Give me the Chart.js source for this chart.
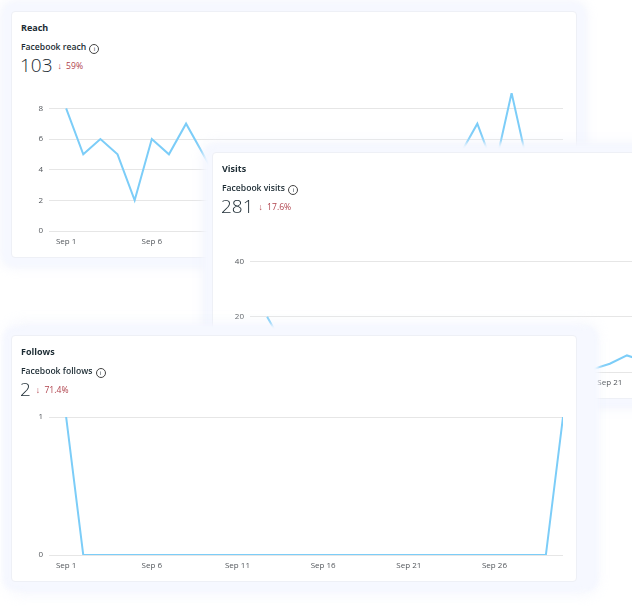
<!DOCTYPE html>
<html lang="en">
<head>
<meta charset="UTF-8">
<title>Facebook insights</title>
<script src="https://cdn.jsdelivr.net/npm/chart.js"></script>
<style>
  html, body { margin: 0; padding: 0; background: #fff; width: 632px; height: 606px; overflow: hidden; }
  body { position: relative; font-family: "Open Sans", "Noto Sans", sans-serif; color: #1c2b33; }
  .card {
    position: absolute; width: 566px; height: 247px; background: #fff;
    border-radius: 4px; border: 1px solid #eef0f6; box-sizing: border-box;
    box-shadow: 0 0 5px 8px rgba(246,248,255,1), 0 0 12px 10px rgba(236,240,252,0.6);
  }
  #followsCard {
    box-shadow: 0 0 5px 8px rgba(246,248,255,1), 12px 0 4px 9px rgba(246,248,255,1), 8px 0 14px 12px rgba(236,240,252,0.6);
  }
  .title { position: absolute; left: 9px; top: 9px; font-size: 9px; font-weight: 700; }
  .metric { position: absolute; left: 9px; top: 29px; font-size: 8.6px; font-weight: 600; white-space: nowrap; }
  .info { display: inline-block; width: 8px; height: 8px; border: 0.8px solid #444; border-radius: 50%;
          font-size: 6px; line-height: 8px; text-align: center; font-weight: 400; vertical-align: -1px; margin-left: 1px; }
  .value { position: absolute; left: 8px; top: 40px; font-size: 19px; font-weight: 300; white-space: nowrap; }
  .delta { font-size: 8.6px; color: #b0424c; font-weight: 400; margin-left: 5px; vertical-align: 3px; }
  .delta b { font-weight: 700; margin-right: 2px; }
  .chart { position: absolute; left: 0; top: 70px; width: 566px; height: 170px; }
</style>
</head>
<body>

<div class="card" id="reachCard" style="left:11px; top:11px; z-index:1;">
  <div class="title">Reach</div>
  <div class="metric">Facebook reach <span class="info">i</span></div>
  <div class="value">103<span class="delta"><b>↓</b> 59%</span></div>
  <div class="chart"><canvas id="reachChart"></canvas></div>
</div>

<div class="card" id="visitsCard" style="left:212px; top:152px; z-index:2;">
  <div class="title">Visits</div>
  <div class="metric">Facebook visits <span class="info">i</span></div>
  <div class="value">281<span class="delta"><b>↓</b> 17.6%</span></div>
  <div class="chart"><canvas id="visitsChart"></canvas></div>
</div>

<div class="card" id="followsCard" style="left:11px; top:335px; z-index:3;">
  <div class="title">Follows</div>
  <div class="metric">Facebook follows <span class="info">i</span></div>
  <div class="value">2<span class="delta"><b>↓</b> 71.4%</span></div>
  <div class="chart"><canvas id="followsChart"></canvas></div>
</div>

<script>
// days of September
const days = [1, 2, 3, 4, 5, 6, 7, 8, 9, 10, 11, 12, 13, 14, 15, 16, 17, 18, 19, 20, 21, 22, 23, 24, 25, 26, 27, 28, 29, 30];
const tickDays = [1, 6, 11, 16, 21, 26];

// daily values (hidden parts of the lines are estimates)
const reach = [8, 5, 6, 5, 2, 6, 5, 7, 5, 3, 4, 2, 3, 5, 3, 2, 4, 3, 2, 3, 4, 2, 3, 5, 7, 4, 9, 4, 3, 2];
const visits = [20, 9, 7, 8, 12, 10, 7, 11, 9, 13, 15, 8, 6, 9, 7, 10, 5, 6, 4, 1, 3, 6, 4, 8, 12, 50, 7, 6, 4, 4];
const follows = [1, 0, 0, 0, 0, 0, 0, 0, 0, 0, 0, 0, 0, 0, 0, 0, 0, 0, 0, 0, 0, 0, 0, 0, 0, 0, 0, 0, 0, 1];

const tickFont = { family: "'Open Sans', 'Noto Sans', sans-serif", size: 8 };

function makeChart(id, values, step) {
  const points = days.map((d, i) => ({ x: d, y: values[i] }));
  return new Chart(document.getElementById(id), {
    type: 'line',
    data: {
      datasets: [{
        data: points,
        borderColor: '#7ccdf8',
        borderWidth: 2,
        pointRadius: 0,
        tension: 0,
        fill: false
      }]
    },
    options: {
      responsive: true,
      maintainAspectRatio: false,
      animation: false,
      layout: { padding: { top: 11, right: 15, left: 0, bottom: 0 } },
      plugins: { legend: { display: false }, tooltip: { enabled: false } },
      scales: {
        x: {
          type: 'linear',
          min: 0,
          max: days[days.length - 1],
          grid: { display: false, drawTicks: false },
          border: { display: false },
          afterBuildTicks: s => { s.ticks = tickDays.map(v => ({ value: v })); },
          afterFit: s => { s.height = 21; },
          ticks: {
            padding: 6,
            color: '#53575c',
            font: tickFont,
            maxRotation: 0,
            autoSkip: false,
            callback: v => 'Sep ' + v
          }
        },
        y: {
          min: 0,
          max: Math.max(...values),
          grid: { color: '#e6e6e6', lineWidth: 1, drawTicks: false },
          border: { display: false },
          afterBuildTicks: s => { s.ticks = s.ticks.filter(t => t.value % step === 0); },
          afterFit: s => { s.width = 37; },
          ticks: {
            stepSize: step,
            padding: 6,
            color: '#53575c',
            font: tickFont
          }
        }
      }
    }
  });
}

makeChart('reachChart', reach, 2);
makeChart('visitsChart', visits, 20);
makeChart('followsChart', follows, 1);
</script>
</body>
</html>
